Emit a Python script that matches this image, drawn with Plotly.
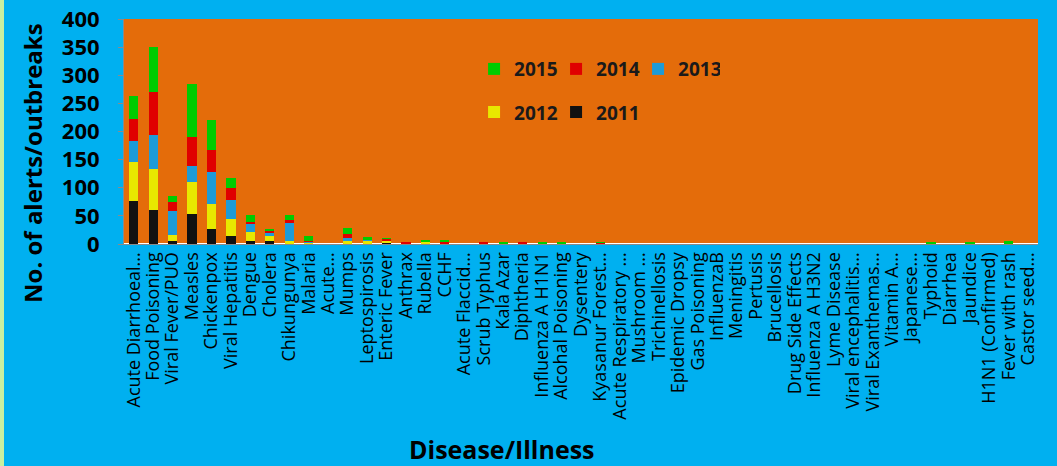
import plotly.graph_objects as go

categories = [
    "Acute Diarrhoeal...", "Food Poisoning", "Viral Fever/PUO", "Measles", "Chickenpox",
    "Viral Hepatitis", "Dengue", "Cholera", "Chikungunya", "Malaria", "Acute...",
    "Mumps", "Leptospirosis", "Enteric Fever", "Anthrax", "Rubella", "CCHF",
    "Acute Flaccid...", "Scrub Typhus", "Kala Azar", "Diphtheria", "Influenza A H1N1",
    "Alcohal Poisoning", "Dysentery", "Kyasanur Forest...", "Acute Respiratory ...",
    "Mushroom ...", "Trichinellosis", "Epidemic Dropsy", "Gas Poisoning", "InfluenzaB",
    "Meningitis", "Pertusis", "Brucellosis", "Drug Side Effects", "Influenza A H3N2",
    "Lyme Disease", "Viral encephalitis...", "Viral Exanthemas...", "Vitamin A...",
    "Japanese...", "Typhoid", "Diarrhea", "Jaundice", "H1N1 (Confirmed)",
    "Fever with rash", "Castor seed...",
]

y2011 = [77, 61, 6, 54, 27, 15, 6, 6, 0, 0, 0, 0, 0, 3, 0, 0, 0, 0, 0, 0, 0, 0, 0, 0,
         0, 0, 0, 0, 0, 0, 0, 0, 0, 0, 0, 0, 0, 0, 0, 0, 0, 0, 0, 0, 0, 0, 0]
y2012 = [68, 73, 10, 56, 44, 29, 15, 9, 5, 2, 0, 6, 7, 3, 0, 4, 0, 0, 0, 0, 0, 0, 1, 0,
         0, 0, 0, 0, 0, 0, 0, 0, 0, 0, 0, 0, 0, 0, 0, 0, 0, 0, 0, 0, 0, 0, 0]
y2013 = [39, 59, 43, 28, 57, 35, 16, 5, 32, 2, 0, 4, 1, 0, 0, 0, 0, 0, 0, 0, 0, 1, 0, 0,
         0, 0, 0, 0, 0, 0, 0, 0, 0, 0, 0, 0, 0, 0, 0, 0, 0, 0, 0, 0, 0, 0, 0]
y2014 = [38, 77, 15, 52, 40, 21, 3, 3, 6, 2, 0, 7, 0, 3, 3, 1, 4, 0, 3, 1, 3, 0, 0, 0,
         2, 0, 0, 0, 0, 0, 0, 0, 0, 0, 0, 0, 0, 0, 0, 0, 0, 0, 0, 0, 0, 0, 0]
y2015 = [42, 80, 11, 94, 52, 18, 12, 4, 9, 8, 0, 11, 4, 1, 0, 3, 4, 0, 0, 2, 0, 2, 2, 0,
         1, 0, 0, 0, 0, 0, 0, 0, 0, 0, 0, 0, 0, 0, 0, 0, 0, 2, 0, 2, 0, 6, 0]

years = ["2011", "2012", "2013", "2014", "2015"]
series = [y2011, y2012, y2013, y2014, y2015]
colors = ["#111111", "#E8E800", "#1E9BD7", "#E00000", "#00CC00"]
legends = ["legend2", "legend2", "legend", "legend", "legend"]

y_ticks = [0, 50, 100, 150, 200, 250, 300, 350, 400]

fig = go.Figure()
for name, vals, col, lg in zip(years, series, colors, legends):
    fig.add_trace(go.Bar(
        x=categories, y=vals, name=name, legend=lg,
        marker=dict(color=col, line=dict(width=0)),
    ))

legend_font = dict(family="Open Sans", size=19, color="#1a1a1a", weight="bold")

fig.update_layout(
    width=1057, height=466,
    barmode="stack", bargap=0.53,
    paper_bgcolor="#00B0F0", plot_bgcolor="#E46C0A",
    margin=dict(l=124, r=19, t=19, b=222, pad=0),
    font=dict(family="Open Sans", color="#000000"),
    legend=dict(orientation="h", x=0.383, y=0.862, xanchor="left", yanchor="top",
                bgcolor="rgba(0,0,0,0)", font=legend_font, traceorder="reversed",
                entrywidth=37, entrywidthmode="pixels"),
    legend2=dict(orientation="h", x=0.383, y=0.67, xanchor="left", yanchor="top",
                 bgcolor="rgba(0,0,0,0)", font=legend_font, traceorder="reversed",
                 entrywidth=37, entrywidthmode="pixels"),
    xaxis=dict(
        type="category", tickangle=-90, showgrid=False, automargin=False,
        tickmode="linear", tick0=0, dtick=1,
        tickfont=dict(family="Open Sans", size=18, color="#000000"),
        showline=True, linecolor="#8a8a8a", linewidth=1, ticks="",
    ),
    yaxis=dict(
        range=[0, 400], tickvals=y_ticks, showgrid=False, automargin=False,
        tickfont=dict(family="Open Sans", size=22, color="#000000", weight="bold"),
        showline=True, linecolor="#8a8a8a", linewidth=1,
        ticks="outside", ticklen=5, tickcolor="#8a8a8a", ticklabelstandoff=14,
    ),
    annotations=[
        dict(text="No. of alerts/outbreaks", textangle=-90, xref="paper", yref="paper",
             x=-0.1007, y=0.36, xanchor="center", yanchor="middle", showarrow=False,
             font=dict(family="Open Sans", size=24, color="#000000", weight="bold")),
        dict(text="Disease/Illness", xref="paper", yref="paper",
             x=0.4136, y=-0.912, xanchor="center", yanchor="middle", showarrow=False,
             font=dict(family="Open Sans", size=25, color="#000000", weight="bold")),
    ],
    shapes=[
        dict(type="rect", xref="paper", yref="paper", x0=-124 / 914, x1=-120 / 914,
             y0=-1.0, y1=1.1, fillcolor="#C8F0A0", line=dict(width=0), layer="below"),
    ],
)

fig.write_html(
    "out.html",
    config={"displayModeBar": False},
    post_script="document.body.style.margin='0';document.body.style.background='#00B0F0';",
)
